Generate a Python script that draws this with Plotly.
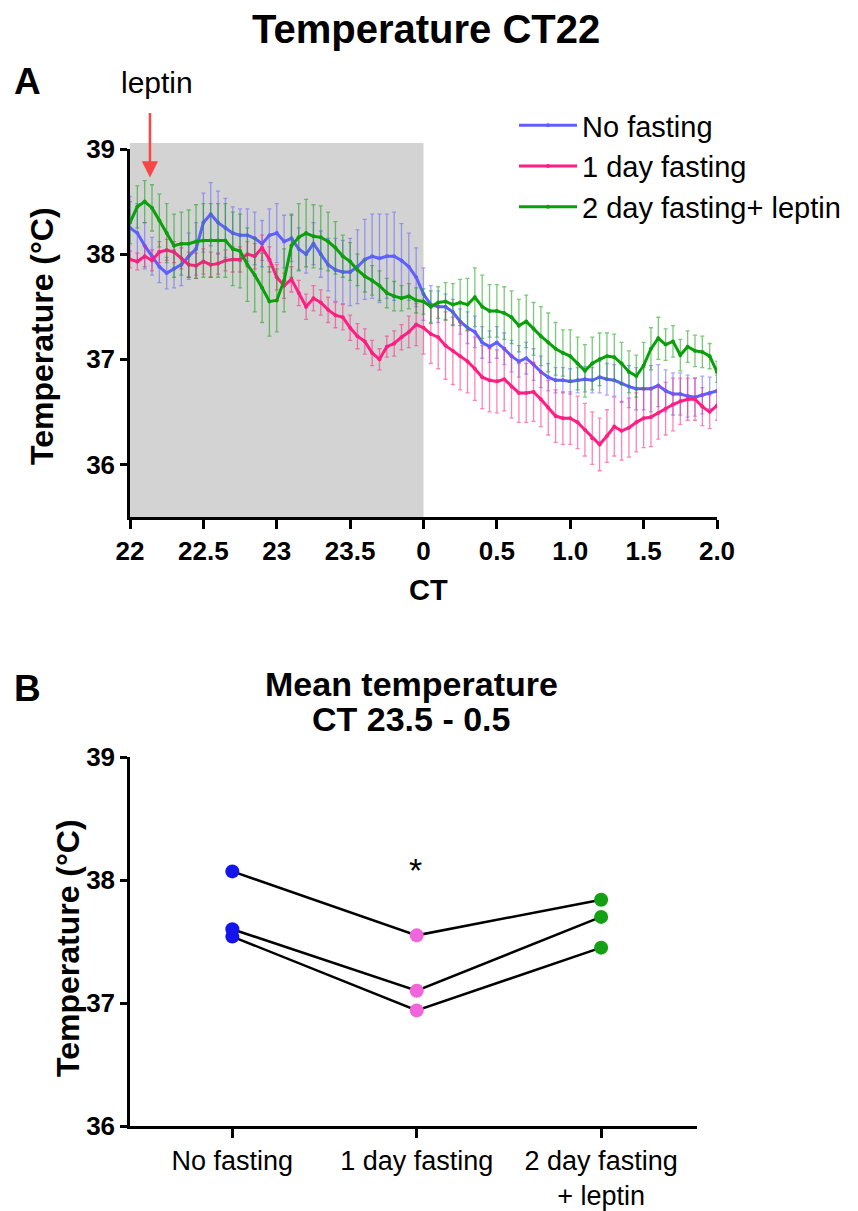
import plotly.graph_objects as go

# ---------------- Panel A data (hours after CT22, 3-min steps) ----------------
hours = [round(i * 0.05, 2) for i in range(81)]
ct_tickvals = [0, 0.5, 1.0, 1.5, 2.0, 2.5, 3.0, 3.5, 4.0]
ct_ticktext = ["22", "22.5", "23", "23.5", "0", "0.5", "1.0", "1.5", "2.0"]

no_fasting = [38.25, 38.20, 38.08, 37.98, 37.88, 37.82, 37.86, 37.90, 37.98, 38.05,
              38.30, 38.38, 38.30, 38.25, 38.20, 38.18, 38.18, 38.15, 38.10, 38.18,
              38.20, 38.12, 38.15, 38.05, 38.00, 38.10, 38.00, 37.90, 37.85, 37.83,
              37.83, 37.88, 37.95, 37.98, 37.96, 37.98, 37.98, 37.94, 37.88, 37.78,
              37.62, 37.52, 37.50, 37.50, 37.45, 37.36, 37.30, 37.26, 37.16, 37.12,
              37.16, 37.10, 37.03, 36.98, 37.01, 36.95, 36.88, 36.83, 36.80, 36.80,
              36.79, 36.80, 36.81, 36.80, 36.83, 36.81, 36.80, 36.77, 36.74, 36.72,
              36.72, 36.72, 36.75, 36.70, 36.67, 36.67, 36.65, 36.64, 36.66, 36.68,
              36.70]
no_fasting_err = [0.30, 0.28, 0.22, 0.18, 0.15, 0.15, 0.18, 0.20, 0.22, 0.25,
                  0.28, 0.30, 0.30, 0.28, 0.25, 0.25, 0.25, 0.25, 0.22, 0.25,
                  0.28, 0.25, 0.22, 0.20, 0.18, 0.20, 0.22, 0.25, 0.30, 0.30,
                  0.32, 0.35, 0.38, 0.40, 0.42, 0.40, 0.42, 0.35, 0.32, 0.28,
                  0.25, 0.18, 0.15, 0.12, 0.12, 0.12, 0.15, 0.15, 0.15, 0.15,
                  0.15, 0.15, 0.15, 0.15, 0.15, 0.15, 0.15, 0.13, 0.12, 0.12,
                  0.12, 0.12, 0.12, 0.12, 0.15, 0.15, 0.15, 0.18, 0.20, 0.20,
                  0.20, 0.22, 0.20, 0.20, 0.20, 0.20, 0.20, 0.18, 0.18, 0.15,
                  0.15]

fasting_1d = [37.95, 37.93, 37.98, 37.94, 38.02, 38.04, 38.02, 37.96, 37.90, 37.89,
              37.93, 37.90, 37.91, 37.94, 37.95, 37.95, 38.00, 37.98, 38.06, 37.95,
              37.78, 37.70, 37.76, 37.63, 37.50, 37.58, 37.54, 37.47, 37.42, 37.40,
              37.30, 37.22, 37.17, 37.06, 37.00, 37.12, 37.15, 37.21, 37.26, 37.33,
              37.30, 37.24, 37.21, 37.13, 37.08, 37.03, 36.98, 36.91, 36.83, 36.80,
              36.79, 36.81, 36.74, 36.68, 36.68, 36.69, 36.62, 36.54, 36.46, 36.44,
              36.44, 36.40, 36.33, 36.25, 36.19, 36.27, 36.36, 36.32, 36.35, 36.40,
              36.44, 36.45, 36.49, 36.53, 36.57, 36.60, 36.62, 36.62, 36.55, 36.50,
              36.56]
fasting_1d_err = [0.08, 0.08, 0.10, 0.10, 0.10, 0.10, 0.10, 0.10, 0.12, 0.12,
                  0.12, 0.12, 0.10, 0.10, 0.12, 0.12, 0.12, 0.12, 0.12, 0.12,
                  0.12, 0.12, 0.12, 0.12, 0.12, 0.12, 0.12, 0.12, 0.12, 0.12,
                  0.12, 0.12, 0.12, 0.12, 0.10, 0.10, 0.12, 0.12, 0.15, 0.20,
                  0.25, 0.28, 0.30, 0.32, 0.32, 0.32, 0.30, 0.30, 0.30, 0.30,
                  0.30, 0.30, 0.30, 0.28, 0.28, 0.28, 0.26, 0.26, 0.25, 0.25,
                  0.25, 0.25, 0.25, 0.25, 0.25, 0.25, 0.28, 0.28, 0.28, 0.28,
                  0.28, 0.28, 0.25, 0.25, 0.25, 0.22, 0.20, 0.20, 0.18, 0.16,
                  0.14]

fasting_2d_leptin = [38.30, 38.45, 38.50, 38.44, 38.32, 38.20, 38.08, 38.10, 38.10, 38.12,
                     38.13, 38.13, 38.13, 38.13, 38.05, 38.03, 37.90, 37.80, 37.68, 37.55,
                     37.56, 37.75, 38.08, 38.16, 38.20, 38.17, 38.16, 38.12, 38.06, 37.98,
                     37.93, 37.85, 37.79, 37.75, 37.70, 37.63, 37.60, 37.58, 37.60, 37.56,
                     37.55, 37.50, 37.54, 37.55, 37.52, 37.54, 37.52, 37.59, 37.50, 37.46,
                     37.46, 37.44, 37.40, 37.32, 37.36, 37.29, 37.22, 37.16, 37.10, 37.06,
                     37.03, 36.96, 36.89, 36.96, 37.00, 37.03, 37.02, 36.96, 36.88, 36.84,
                     36.94, 37.10, 37.20, 37.14, 37.17, 37.04, 37.12, 37.08, 37.07, 37.03,
                     36.88]
fasting_2d_leptin_err = [0.20, 0.20, 0.20, 0.22, 0.25, 0.28, 0.30, 0.30, 0.32, 0.35,
                         0.35, 0.35, 0.35, 0.35, 0.35, 0.35, 0.35, 0.35, 0.33, 0.33,
                         0.30, 0.30, 0.30, 0.32, 0.32, 0.30, 0.30, 0.28, 0.25, 0.20,
                         0.18, 0.15, 0.15, 0.14, 0.14, 0.14, 0.14, 0.12, 0.12, 0.12,
                         0.12, 0.15, 0.15, 0.18, 0.20, 0.22, 0.25, 0.28, 0.30, 0.25,
                         0.25, 0.25, 0.25, 0.25, 0.25, 0.25, 0.28, 0.28, 0.25, 0.22,
                         0.25, 0.25, 0.25, 0.25, 0.25, 0.22, 0.22, 0.20, 0.20, 0.20,
                         0.22, 0.20, 0.20, 0.15, 0.15, 0.15, 0.15, 0.15, 0.15, 0.12,
                         0.10]

series_names = ["No fasting", "1 day fasting", "2 day fasting+ leptin"]

# ---------------- Panel B data ----------------
groups = ["No fasting", "1 day fasting", "2 day fasting<br>+ leptin"]
mean_no_fasting = [38.07, 37.60, 37.54]
mean_fasting_1d = [37.55, 37.10, 36.94]
mean_fasting_2d_leptin = [37.84, 37.70, 37.45]

W, H = 858, 1211
OFF = 8  # page body margin offset
def px(x):
    return (x - OFF) / W
def py(y):
    return 1 - (y - OFF) / H

SANS = "Liberation Sans, Arial, Helvetica, sans-serif"

fig = go.Figure()

line_cols = ["rgb(95,95,255)", "rgb(255,30,130)", "rgb(10,160,10)"]
err_cols = ["rgba(95,95,255,0.55)", "rgba(255,30,130,0.55)", "rgba(10,160,10,0.55)"]
ys = [no_fasting, fasting_1d, fasting_2d_leptin]
es = [no_fasting_err, fasting_1d_err, fasting_2d_leptin_err]

for i in range(3):
    fig.add_trace(go.Scatter(
        x=hours, y=ys[i], name=series_names[i], mode="lines+markers",
        line=dict(color=line_cols[i], width=3),
        marker=dict(color=line_cols[i], size=4),
        error_y=dict(type="data", array=es[i], color=err_cols[i], thickness=1.3, width=2),
        legendgroup="g%d" % i,
        xaxis="x", yaxis="y"))

# Panel B lines per subject
for j in range(3):
    fig.add_trace(go.Scatter(
        x=[0, 1, 2], y=[mean_no_fasting[j], mean_fasting_1d[j], mean_fasting_2d_leptin[j]],
        mode="lines", line=dict(color="black", width=2.5), showlegend=False,
        xaxis="x2", yaxis="y2"))
pt_cols = ["rgb(20,20,235)", "rgb(240,100,220)", "rgb(20,160,20)"]
pt_vals = [mean_no_fasting, mean_fasting_1d, mean_fasting_2d_leptin]
for k in range(3):
    fig.add_trace(go.Scatter(
        x=[k] * 3, y=pt_vals[k], mode="markers",
        marker=dict(color=pt_cols[k], size=14), showlegend=False,
        xaxis="x2", yaxis="y2"))

axis_common = dict(showgrid=False, zeroline=False, showline=True, linecolor="black",
                   linewidth=2.5, ticks="outside", tickcolor="black", tickwidth=2.5,
                   automargin=False)

fig.update_layout(
    width=W, height=H, margin=dict(l=0, r=0, t=0, b=0, autoexpand=False),
    paper_bgcolor="white", plot_bgcolor="rgba(0,0,0,0)",
    showlegend=True,
    legend=dict(x=px(514), y=py(100), xanchor="left", yanchor="top",
                font=dict(family=SANS, size=29, color="black"),
                bgcolor="rgba(0,0,0,0)", tracegroupgap=0, itemwidth=58),
    xaxis=dict(domain=[px(130), px(717)], range=[0, 4], anchor="y",
               tickvals=ct_tickvals, ticktext=ct_ticktext, ticklen=9,
               tickfont=dict(family=SANS, size=26, color="black", weight="bold"),
               **axis_common),
    yaxis=dict(domain=[py(517), py(149)], range=[35.5, 39], anchor="x",
               tickvals=[36, 37, 38, 39], ticklen=7,
               tickfont=dict(family=SANS, size=26, color="black", weight="bold"),
               **axis_common),
    xaxis2=dict(domain=[px(130), px(697)], range=[-0.555, 2.52], anchor="y2",
                tickvals=[0, 1, 2], ticktext=groups, ticklen=9,
                tickfont=dict(family=SANS, size=27, color="black"),
                **axis_common),
    yaxis2=dict(domain=[py(1126), py(757)], range=[36, 39], anchor="x2",
                tickvals=[36, 37, 38, 39], ticklen=7,
                tickfont=dict(family=SANS, size=26, color="black", weight="bold"),
                **axis_common),
    shapes=[dict(type="rect", xref="x", yref="paper", x0=0, x1=2,
                 y0=py(517), y1=py(143), fillcolor="rgb(211,211,211)",
                 line=dict(width=0), layer="below")],
)

anns = [
    dict(text="<b>Temperature CT22</b>", x=px(426), y=py(29), font=dict(family=SANS, size=40)),
    dict(text="<b>A</b>", x=px(27), y=py(81), font=dict(family=SANS, size=37)),
    dict(text="<b>B</b>", x=px(27), y=py(688), font=dict(family=SANS, size=37)),
    dict(text="leptin", x=px(157), y=py(83), font=dict(family=SANS, size=30)),
    dict(text="<b>Temperature (°C)</b>", x=px(42), y=py(336), textangle=-90,
         font=dict(family=SANS, size=32)),
    dict(text="<b>CT</b>", x=px(428), y=py(590), font=dict(family=SANS, size=29)),
    dict(text="<b>Mean temperature</b>", x=px(411), y=py(684), font=dict(family=SANS, size=34)),
    dict(text="<b>CT 23.5 - 0.5</b>", x=px(411), y=py(719), font=dict(family=SANS, size=34)),
    dict(text="<b>Temperature (°C)</b>", x=px(68), y=py(948), textangle=-90,
         font=dict(family=SANS, size=32)),
    dict(text="*", x=px(415), y=py(870), font=dict(family=SANS, size=34)),
]
for a in anns:
    a.update(xref="paper", yref="paper", showarrow=False, xanchor="center", yanchor="middle")
    a["font"]["color"] = "black"
    fig.add_annotation(**a)

fig.add_annotation(xref="x", yref="y", x=0.136, y=38.73, ax=0, ay=-66,
                   axref="pixel", ayref="pixel", text="", showarrow=True,
                   arrowhead=2, arrowsize=1.3, arrowwidth=2.5, arrowcolor="rgb(250,70,70)")

fig.write_html("out.html")
